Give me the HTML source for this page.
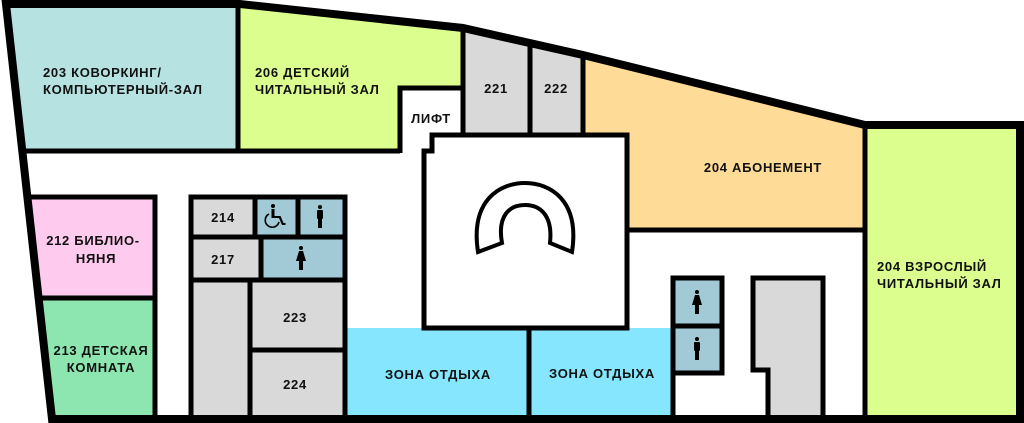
<!DOCTYPE html>
<html><head><meta charset="utf-8"><style>
html,body{margin:0;padding:0;background:#fff;}
svg{display:block}
text{font-family:"Liberation Sans",sans-serif;font-weight:bold;font-size:13px;letter-spacing:0.7px;fill:#111;}
</style></head><body>
<svg width="1024" height="423" viewBox="0 0 1024 423" xmlns="http://www.w3.org/2000/svg">
<!-- fills -->
<polygon points="6,4 238,4 238,150 23,150" fill="#b6e2e1"/>
<polygon points="238,4 463,28 463,88 398,88 398,150 238,150" fill="#dcfe8e"/>
<polygon points="463,28 530,43 530,133 463,133" fill="#d9d9d9"/>
<polygon points="530,43 583,55 583,133 530,133" fill="#d9d9d9"/>
<polygon points="583,55 865,125 865,230 627,229 627,133 583,133" fill="#fedb97"/>
<rect x="865" y="125" width="155" height="295" fill="#dcfe8e"/>
<polygon points="29,197 155,197 155,297 39,297" fill="#fecbee"/>
<polygon points="39,297 155,297 155,418 52,418" fill="#8de6b0"/>
<rect x="193" y="198" width="152" height="220" fill="#d9d9d9"/>
<rect x="256" y="198" width="89" height="38" fill="#a2c9d6"/>
<rect x="262" y="238" width="83" height="41" fill="#a2c9d6"/>
<rect x="347" y="328" width="182" height="90" fill="#86e6fe"/>
<rect x="529" y="328" width="143" height="90" fill="#86e6fe"/>
<rect x="674" y="280" width="47" height="92" fill="#a2c9d6"/>
<polygon points="754,280 822,280 822,418 769,418 769,370 754,370" fill="#d9d9d9"/>

<g fill="none" stroke="#000" stroke-linejoin="miter">
<polygon points="6,4 240,4 463,28 583,55 865,125 1020,125 1020,419 52,419" stroke-width="8"/>
<g stroke-width="5">
<line x1="238" y1="4" x2="238" y2="150"/>
<line x1="22" y1="151" x2="400" y2="151"/>
<polyline points="400,153 400,88 463,88"/>
<line x1="463" y1="28" x2="463" y2="133"/>
<line x1="530" y1="42" x2="530" y2="133"/>
<line x1="583" y1="55" x2="583" y2="133"/>
<polygon points="424,151 432,151 432,135 627,135 627,328 424,328"/>
<line x1="627" y1="230" x2="865" y2="230"/>
<line x1="865" y1="125" x2="865" y2="419"/>
<polyline points="29,197 155,197 155,419"/>
<line x1="38" y1="298" x2="155" y2="298"/>
<rect x="191" y="197" width="154" height="222"/>
<line x1="191" y1="237" x2="345" y2="237"/>
<line x1="191" y1="280" x2="345" y2="280"/>
<line x1="255" y1="197" x2="255" y2="237"/>
<line x1="298" y1="197" x2="298" y2="237"/>
<line x1="261" y1="237" x2="261" y2="280"/>
<line x1="250" y1="280" x2="250" y2="419"/>
<line x1="250" y1="350" x2="345" y2="350"/>
<line x1="529" y1="328" x2="529" y2="419"/>
<polyline points="673,419 673,278 722,278 722,373 673,373"/>
<line x1="673" y1="326" x2="722" y2="326"/>
<polyline points="768,419 768,370 753,370 753,278 823,278 823,419"/>
</g>
<path d="M478,252 C470,200 500,183 525,183 C550,183 580,200 572,252 L550,243 C553,215 540,205 525,205 C510,205 497,215 502,243 Z" stroke-width="4"/>
</g>

<g fill="#000">
<circle cx="273" cy="206" r="2"/>
<path d="M271.5,209 h3 v7 h6 l3,7 h2 v2 h-3.5 l-3,-7 h-7.5 z"/>
<path d="M269,214 a7,7 0 1 0 10,8" fill="none" stroke="#000" stroke-width="1.6"/>
<circle cx="320" cy="207" r="2"/>
<rect x="317" y="210" width="6" height="9" rx="1"/>
<rect x="318" y="218" width="4" height="10"/>
<circle cx="301" cy="248" r="2"/>
<path d="M299,251 h4 l3,10 h-3 v9 h-4 v-9 h-3 z"/>
<circle cx="697" cy="292" r="2"/>
<path d="M695,295 h4 l3,10 h-3 v9 h-4 v-9 h-3 z"/>
<circle cx="697" cy="339" r="2"/>
<rect x="694" y="342" width="6" height="9" rx="1"/>
<rect x="695" y="350" width="4" height="10"/>
</g>

<text x="43" y="77">203 КОВОРКИНГ/</text>
<text x="43" y="94">КОМПЬЮТЕРНЫЙ-ЗАЛ</text>
<text x="255" y="77">206 ДЕТСКИЙ</text>
<text x="255" y="94">ЧИТАЛЬНЫЙ ЗАЛ</text>
<text x="431" y="123" text-anchor="middle">ЛИФТ</text>
<text x="496" y="93" text-anchor="middle">221</text>
<text x="556" y="93" text-anchor="middle">222</text>
<text x="763" y="172" text-anchor="middle">204 АБОНЕМЕНТ</text>
<text x="877" y="271">204 ВЗРОСЛЫЙ</text>
<text x="877" y="288">ЧИТАЛЬНЫЙ ЗАЛ</text>
<text x="93" y="245" text-anchor="middle">212 БИБЛИО-</text>
<text x="96" y="263" text-anchor="middle">НЯНЯ</text>
<text x="101" y="355" text-anchor="middle">213 ДЕТСКАЯ</text>
<text x="101" y="372" text-anchor="middle">КОМНАТА</text>
<text x="223" y="222" text-anchor="middle">214</text>
<text x="223" y="264" text-anchor="middle">217</text>
<text x="295" y="322" text-anchor="middle">223</text>
<text x="295" y="389" text-anchor="middle">224</text>
<text x="438" y="379" text-anchor="middle">ЗОНА ОТДЫХА</text>
<text x="602" y="378" text-anchor="middle">ЗОНА ОТДЫХА</text>
</svg>
</body></html>
